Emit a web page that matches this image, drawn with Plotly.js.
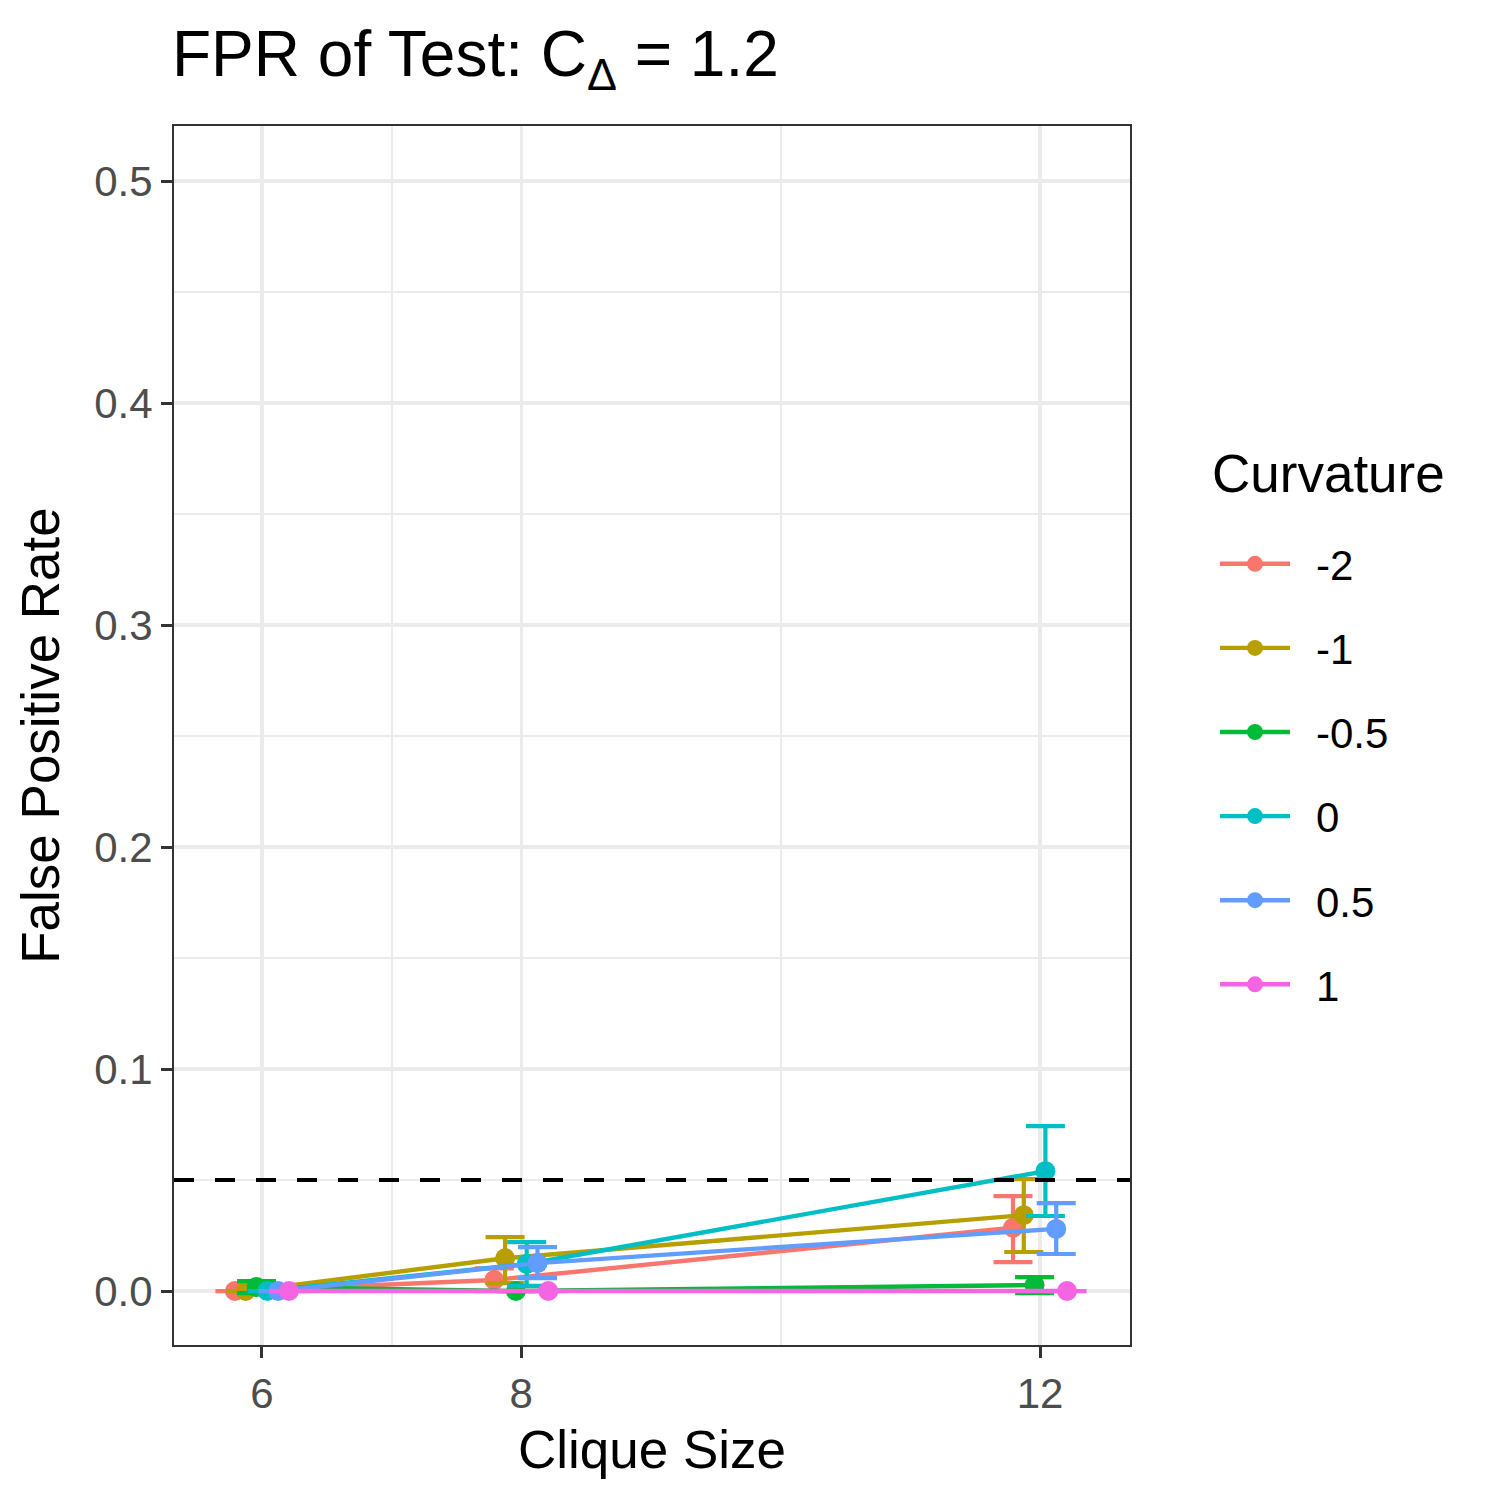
<!DOCTYPE html>
<html>
<head>
<meta charset="utf-8">
<script src="https://cdn.plot.ly/plotly-3.0.1.min.js"></script>
<style>html,body{margin:0;padding:0;background:#fff;}#chart{width:1500px;height:1500px;}</style>
</head>
<body>
<div id="chart"></div>
<script>
// ---- data ----
const cliqueSizes = [6, 8, 12];
const curvatures = ['-2', '-1', '-0.5', '0', '0.5', '1'];
const colors = ['#F8766D', '#B79F00', '#00BA38', '#00BFC4', '#619CFF', '#F564E3'];

const fpr_m2  = [0, 0.0050, 0.0285];
const fpr_m1  = [0, 0.0148, 0.0342];
const fpr_m05 = [0.0018, 0, 0.0027];
const fpr_0   = [0, 0.0122, 0.0540];
const fpr_05  = [0, 0.0126, 0.0280];
const fpr_1   = [0, 0, 0];

const lower_m2  = [0, 0, 0.0130];
const lower_m1  = [0, 0.0036, 0.0176];
const lower_m05 = [-0.0009, 0, -0.0009];
const lower_0   = [0, 0.0023, 0.0338];
const lower_05  = [0, 0.0058, 0.0167];
const lower_1   = [0, 0, 0];

const upper_m2  = [0, 0.0102, 0.0428];
const upper_m1  = [0, 0.0243, 0.0504];
const upper_m05 = [0.0045, 0, 0.0063];
const upper_0   = [0, 0.0220, 0.0743];
const upper_05  = [0, 0.0198, 0.0396];
const upper_1   = [0, 0, 0];

const nominalLevel = 0.05;
const xTickLabels = ['6', '8', '12'];
const yTickVals = [0, 0.1, 0.2, 0.3, 0.4, 0.5];
const yTickLabels = ['0.0', '0.1', '0.2', '0.3', '0.4', '0.5'];
const legendTitle = 'Curvature';

const fprSeries = [fpr_m2, fpr_m1, fpr_m05, fpr_0, fpr_05, fpr_1];
const lowerSeries = [lower_m2, lower_m1, lower_m05, lower_0, lower_05, lower_1];
const upperSeries = [upper_m2, upper_m1, upper_m05, upper_0, upper_05, upper_1];

// position_dodge(width = 0.5)
const dodgeWidth = 0.5;
const nGroups = curvatures.length;

const traces = curvatures.map((c, i) => {
  const off = (i - (nGroups - 1) / 2) * dodgeWidth / nGroups;
  const y = fprSeries[i];
  return {
    type: 'scatter',
    mode: 'lines+markers',
    name: '\u2002' + c,
    legendgroup: c,
    x: cliqueSizes.map(v => v + off),
    y: y,
    line: {color: colors[i], width: 4.4},
    marker: {color: colors[i], size: 20},
    error_y: {
      type: 'data', symmetric: false,
      array: upperSeries[i].map((u, k) => u - y[k]),
      arrayminus: y.map((v, k) => v - lowerSeries[i][k]),
      color: colors[i], thickness: 4.2, width: 19.5
    },
    hoverinfo: 'x+y+name'
  };
});

const font = 'Liberation Sans, Arial, Helvetica, sans-serif';

const layout = {
  width: 1500, height: 1500,
  margin: {l: 174, r: 370, t: 126, b: 155, pad: 0},
  paper_bgcolor: '#ffffff', plot_bgcolor: '#ffffff',
  font: {family: font, color: '#000000'},
  title: {
    text: 'FPR of Test: C<sub>\u0394</sub> = 1.2',
    font: {family: font, size: 64, color: '#000000'},
    x: 172 / 1500, xref: 'container', xanchor: 'left',
    y: 1 - 54 / 1500, yref: 'container', yanchor: 'middle'
  },
  xaxis: {
    range: [5.322, 12.694],
    tickmode: 'array', tickvals: cliqueSizes, ticktext: xTickLabels,
    ticks: 'outside', ticklen: 11, tickwidth: 3, tickcolor: '#333333',
    tickfont: {family: font, size: 42, color: '#4D4D4D'},
    showgrid: true, gridcolor: '#EBEBEB', gridwidth: 3.5,
    minor: {tickmode: 'array', tickvals: [7, 10], showgrid: true, gridcolor: '#EBEBEB', gridwidth: 1.8, ticks: ''},
    showline: true, mirror: true, linecolor: '#333333', linewidth: 2,
    zeroline: false,
    title: {text: 'Clique Size', font: {family: font, size: 53, color: '#000000'}, standoff: 14},
    automargin: false
  },
  yaxis: {
    range: [-0.0243, 0.5248],
    tickmode: 'array', tickvals: yTickVals, ticktext: yTickLabels,
    ticks: 'outside', ticklen: 11, tickwidth: 3, tickcolor: '#333333',
    tickfont: {family: font, size: 42, color: '#4D4D4D'},
    showgrid: true, gridcolor: '#EBEBEB', gridwidth: 3.5,
    minor: {dtick: 0.05, tick0: 0.05, showgrid: true, gridcolor: '#EBEBEB', gridwidth: 1.8, ticks: ''},
    showline: true, mirror: true, linecolor: '#333333', linewidth: 2,
    zeroline: false,
    title: {text: 'False Positive Rate', font: {family: font, size: 53, color: '#000000'}, standoff: 18},
    automargin: false
  },
  shapes: [{
    type: 'line', xref: 'paper', x0: 0, x1: 1, yref: 'y', y0: nominalLevel, y1: nominalLevel,
    line: {color: '#000000', width: 4, dash: '20,21'}, layer: 'above'
  }],
  annotations: [{
    text: legendTitle, xref: 'paper', yref: 'paper',
    x: (1210 - 174) / 956, xanchor: 'left',
    y: (1345 - 473) / 1219, yanchor: 'middle',
    showarrow: false, font: {family: font, size: 53, color: '#000000'}
  }],
  legend: {
    font: {family: font, size: 42, color: '#000000'},
    x: (1215 - 174) / 956, xanchor: 'left',
    y: (1345 - 530) / 1219, yanchor: 'top',
    tracegroupgap: 26.5,
    itemwidth: 70,
    itemsizing: 'trace',
    bgcolor: 'rgba(0,0,0,0)'
  },
  showlegend: true
};

Plotly.newPlot('chart', traces, layout, {displayModeBar: false, staticPlot: true});
</script>
</body>
</html>
